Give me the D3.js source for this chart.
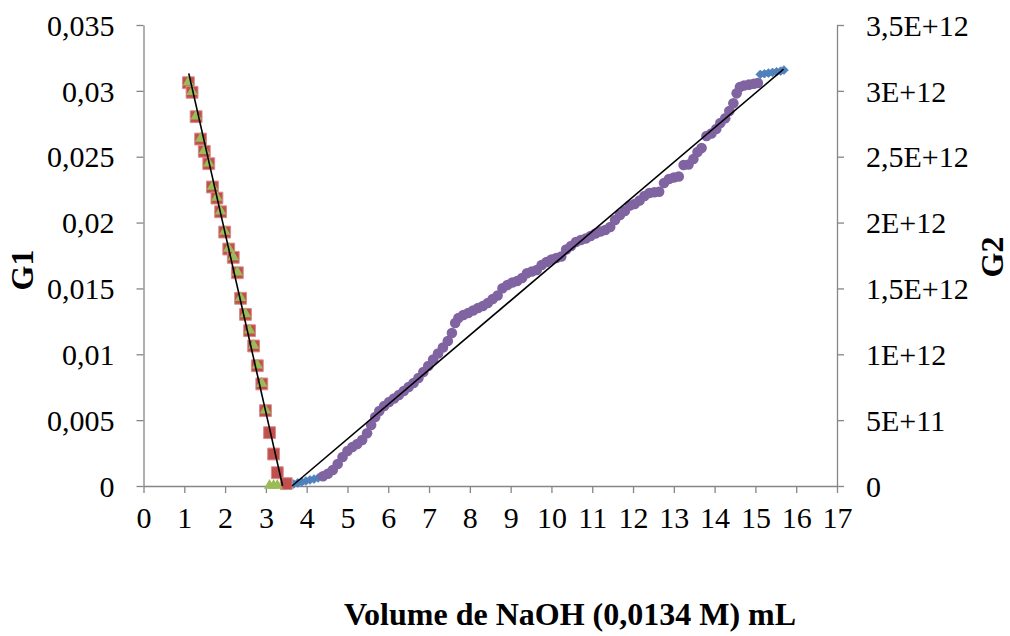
<!DOCTYPE html>
<html>
<head>
<meta charset="utf-8">
<script src="https://cdn.jsdelivr.net/npm/d3@7"></script>
<style>
  html, body { margin: 0; padding: 0; background: #fff; }
  svg { display: block; }
  text { font-family: "Liberation Serif", "Times New Roman", serif; fill: #000; }
</style>
</head>
<body>
<svg id="chart" width="1010" height="636"></svg>
<script>
// ---------------- DATA ----------------
const xTicks = [0,1,2,3,4,5,6,7,8,9,10,11,12,13,14,15,16,17];
const g1Ticks = [0,0.005,0.01,0.015,0.02,0.025,0.03,0.035];
const g1TickLabels = ["0","0,005","0,01","0,015","0,02","0,025","0,03","0,035"];
const g2Ticks = [0,5e11,1e12,1.5e12,2e12,2.5e12,3e12,3.5e12];
const g2TickLabels = ["0","5E+11","1E+12","1,5E+12","2E+12","2,5E+12","3E+12","3,5E+12"];

// G1 series (left axis) - red squares
const redX = [1.10,1.19,1.29,1.40,1.49,1.60,1.69,1.80,1.89,1.99,2.09,2.20,2.30,2.38,2.50,2.60,2.70,2.79,2.90,2.99,3.09,3.19,3.28,3.50];
const redY = [0.03062,0.02989,0.02804,0.02634,0.02541,0.02447,0.02270,0.02186,0.02082,0.01928,0.01799,0.01736,0.01619,0.01425,0.01303,0.01179,0.01063,0.00913,0.00775,0.00572,0.00405,0.00243,0.00101,0.00018];

// G1 series used for fit - green triangles
const greenX = [1.10,1.19,1.29,1.40,1.49,1.60,1.69,1.80,1.89,1.99,2.09,2.20,2.30,2.38,2.50,2.60,2.70,2.79,2.90,2.99,3.09,3.19,3.28];
const greenY = [0.03062,0.02989,0.02804,0.02634,0.02541,0.02447,0.02270,0.02186,0.02082,0.01928,0.01799,0.01736,0.01619,0.01425,0.01303,0.01179,0.01063,0.00913,0.00775,0.00572,0,0,0];

// G2 series (right axis) - blue diamonds, values in units of 1E+12
const blueX = [3.48,3.58,3.68,3.78,3.88,3.98,4.08,4.18,4.28,4.38,15.12,15.22,15.32,15.42,15.52,15.62,15.70];
const blueY = [0.002,0.008,0.015,0.023,0.030,0.038,0.046,0.053,0.061,0.071,3.125,3.130,3.135,3.140,3.145,3.150,3.158];

// G2 series used for fit - purple circles, values in units of 1E+12
const purpleX = [4.40,4.52,4.64,4.76,4.88,5.00,5.12,5.24,5.36,5.48,5.58,5.68,5.78,5.90,6.02,6.14,6.26,6.38,6.50,6.62,6.74,6.86,6.98,7.10,7.22,7.34,7.46,7.56,7.64,7.72,7.84,7.96,8.08,8.20,8.32,8.44,8.56,8.68,8.80,8.92,9.04,9.16,9.28,9.40,9.52,9.64,9.76,9.88,10.00,10.12,10.24,10.36,10.48,10.60,10.72,10.84,10.96,11.08,11.20,11.32,11.44,11.56,11.68,11.80,11.92,12.04,12.16,12.28,12.40,12.52,12.64,12.76,12.88,13.00,13.12,13.24,13.36,13.48,13.58,13.68,13.80,13.92,14.04,14.14,14.26,14.36,14.46,14.54,14.62,14.72,14.84,14.96,15.06];
const purpleY = [0.074,0.093,0.121,0.167,0.220,0.266,0.296,0.319,0.349,0.400,0.463,0.524,0.569,0.607,0.638,0.664,0.691,0.721,0.752,0.782,0.820,0.865,0.911,0.960,1.006,1.052,1.101,1.162,1.238,1.275,1.298,1.313,1.332,1.351,1.367,1.389,1.420,1.446,1.501,1.526,1.545,1.556,1.579,1.615,1.628,1.640,1.678,1.701,1.720,1.731,1.742,1.795,1.822,1.852,1.868,1.879,1.898,1.917,1.932,1.944,1.966,2.019,2.057,2.088,2.130,2.141,2.167,2.202,2.224,2.230,2.234,2.300,2.331,2.342,2.350,2.437,2.441,2.483,2.536,2.566,2.657,2.676,2.710,2.756,2.792,2.847,2.905,2.981,3.029,3.041,3.047,3.054,3.060];
const G2_UNIT = 1e12;

// Linear trend lines: [slope, intercept, xStart, xEnd]
const trendG1 = [-0.01362, 0.04645, 1.11, 3.41];
const trendG2 = [0.2626, -0.9559, 3.64, 15.69]; // in 1E+12 units

// ---------------- CHART ----------------
const svg = d3.select("#chart");
const L = 143.5, R = 837, T = 25, B = 486;
const axisColor = "#868686";
const tickLen = 7;
const fs = 30;
const tfs = 32;

const x = d3.scaleLinear().domain([0,17]).range([L,R]);
const yL = d3.scaleLinear().domain([0,0.035]).range([B,T]);
const yR = d3.scaleLinear().domain([0,3.5e12]).range([B,T]);

// Axes
const gx = svg.append("g").attr("transform", `translate(0,${B})`)
  .call(d3.axisBottom(x).tickValues(xTicks).tickSize(tickLen).tickSizeOuter(0).tickPadding(14).tickFormat(d3.format("d")));
const gl = svg.append("g").attr("transform", `translate(${L},0)`)
  .call(d3.axisLeft(yL).tickValues(g1Ticks).tickSize(tickLen).tickSizeOuter(0).tickPadding(22).tickFormat((d,i)=>g1TickLabels[i]));
const gr = svg.append("g").attr("transform", `translate(${R},0)`)
  .call(d3.axisRight(yR).tickValues(g2Ticks).tickSize(tickLen).tickSizeOuter(0).tickPadding(22).tickFormat((d,i)=>g2TickLabels[i]));

[gx, gl, gr].forEach(g => {
  g.selectAll("path.domain").attr("stroke", axisColor).attr("stroke-width", 1.3);
  g.selectAll(".tick line").attr("stroke", axisColor).attr("stroke-width", 1.3);
  g.selectAll(".tick text").attr("font-family", "Liberation Serif, serif").attr("font-size", fs).attr("fill", "#000");
});
gx.selectAll(".tick text").attr("dy", "0.71em");
gl.selectAll(".tick text").attr("dy", "0.34em");
gr.selectAll(".tick text").attr("dy", "0.34em");

// Titles
svg.append("text").attr("transform", `translate(33,270) rotate(-90)`)
  .attr("text-anchor", "middle").attr("font-size", tfs).attr("font-weight", "bold").text("G1");
svg.append("text").attr("transform", `translate(1003,257) rotate(-90)`)
  .attr("text-anchor", "middle").attr("font-size", tfs).attr("font-weight", "bold").text("G2");
svg.append("text").attr("x", 570).attr("y", 625)
  .attr("text-anchor", "middle").attr("font-size", tfs).attr("font-weight", "bold").text("Volume de NaOH (0,0134 M) mL");

// Markers
const plot = svg.append("g");

// blue diamonds (G2)
plot.append("g").selectAll("path").data(blueX.map((d,i)=>[d, blueY[i]*G2_UNIT])).join("path")
  .attr("d", d3.symbol().type(d3.symbolSquare).size(38))
  .attr("transform", d => `translate(${x(d[0])},${yR(d[1])}) rotate(45)`)
  .attr("fill", "#4F81BD").attr("stroke", "#4F81BD").attr("stroke-width", 0.8);

// purple circles (G2)
plot.append("g").selectAll("circle").data(purpleX.map((d,i)=>[d, purpleY[i]*G2_UNIT])).join("circle")
  .attr("cx", d => x(d[0])).attr("cy", d => yR(d[1])).attr("r", 5.3)
  .attr("fill", "#8064A2");

// red squares (G1)
plot.append("g").selectAll("path").data(redX.map((d,i)=>[d, redY[i]])).join("path")
  .attr("d", d3.symbol().type(d3.symbolSquare).size(140))
  .attr("transform", d => `translate(${x(d[0])},${yL(d[1])})`)
  .attr("fill", "#C0504D").attr("stroke", "#D98C8A").attr("stroke-width", 1);

// green triangles (G1)
plot.append("g").selectAll("path").data(greenX.map((d,i)=>[d, greenY[i]])).join("path")
  .attr("d", d3.symbol().type(d3.symbolTriangle).size(56))
  .attr("transform", d => `translate(${x(d[0])},${yL(d[1])-0.5})`)
  .attr("fill", "#9BBB59");

// Trend lines
const lineG1 = [trendG1[2], trendG1[3]].map(v => [v, trendG1[0]*v + trendG1[1]]);
svg.append("line")
  .attr("x1", x(lineG1[0][0])).attr("y1", yL(lineG1[0][1]))
  .attr("x2", x(lineG1[1][0])).attr("y2", yL(lineG1[1][1]))
  .attr("stroke", "#000").attr("stroke-width", 1.6);
const lineG2 = [trendG2[2], trendG2[3]].map(v => [v, (trendG2[0]*v + trendG2[1])*G2_UNIT]);
svg.append("line")
  .attr("x1", x(lineG2[0][0])).attr("y1", yR(lineG2[0][1]))
  .attr("x2", x(lineG2[1][0])).attr("y2", yR(lineG2[1][1]))
  .attr("stroke", "#000").attr("stroke-width", 1.6);
</script>
</body>
</html>
